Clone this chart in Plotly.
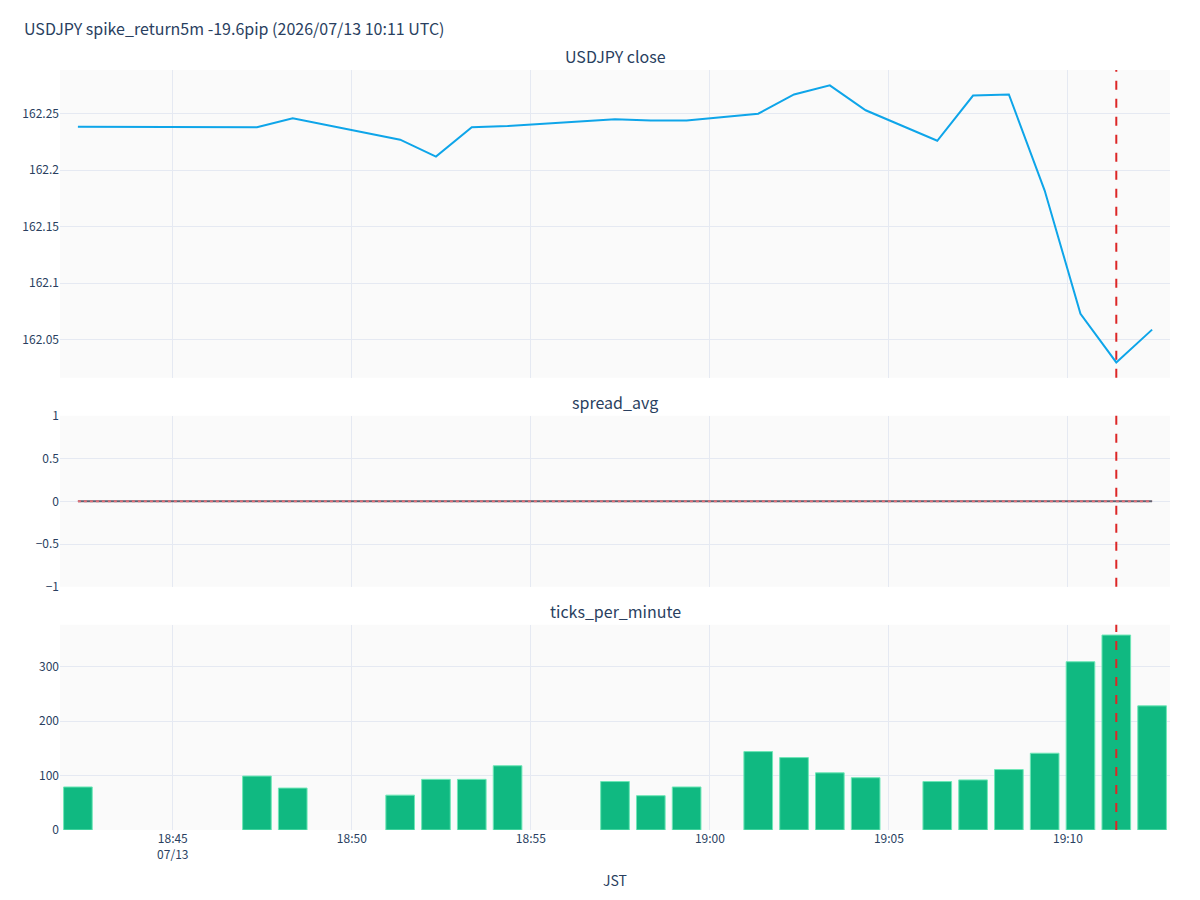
import plotly.graph_objects as go
from plotly.subplots import make_subplots

times = [
    "2026-07-13 18:42:21", "2026-07-13 18:47:21", "2026-07-13 18:48:21",
    "2026-07-13 18:51:21", "2026-07-13 18:52:21", "2026-07-13 18:53:21",
    "2026-07-13 18:54:21", "2026-07-13 18:57:21", "2026-07-13 18:58:21",
    "2026-07-13 18:59:21", "2026-07-13 19:01:21", "2026-07-13 19:02:21",
    "2026-07-13 19:03:21", "2026-07-13 19:04:21", "2026-07-13 19:06:21",
    "2026-07-13 19:07:21", "2026-07-13 19:08:21", "2026-07-13 19:09:21",
    "2026-07-13 19:10:21", "2026-07-13 19:11:21", "2026-07-13 19:12:21",
]
close = [
    162.2385, 162.238, 162.246, 162.227, 162.212, 162.238, 162.239,
    162.245, 162.244, 162.244, 162.250, 162.267, 162.275, 162.253,
    162.226, 162.266, 162.267, 162.182, 162.073, 162.030, 162.059,
]
spread_avg = [0] * 21
spread_ref = [0] * 21
ticks_per_minute = [
    79, 99, 77, 64, 93, 93, 118, 89, 63, 79, 144, 133, 105, 96,
    89, 92, 111, 141, 309, 358, 228,
]
event_time = "2026-07-13 19:11:21"

tick_vals = [
    "2026-07-13 18:45:00", "2026-07-13 18:50:00", "2026-07-13 18:55:00",
    "2026-07-13 19:00:00", "2026-07-13 19:05:00", "2026-07-13 19:10:00",
]
tick_text = ["18:45<br>07/13", "18:50", "18:55", "19:00", "19:05", "19:10"]

title_text = "USDJPY spike_return5m -19.6pip (2026/07/13 10:11 UTC)"
subplot_titles = ["USDJPY close", "spread_avg", "ticks_per_minute"]

FONT = "Noto Sans CJK JP"

fig = make_subplots(
    rows=3, cols=1, shared_xaxes=True,
    row_heights=[0.45, 0.25, 0.3], vertical_spacing=0.05,
    subplot_titles=subplot_titles,
)

fig.add_trace(go.Scatter(x=times, y=close, mode="lines",
                         line=dict(color="#0ea5e9", width=2),
                         name="close"), row=1, col=1)
fig.add_trace(go.Scatter(x=times, y=spread_avg, mode="lines",
                         line=dict(color="#5b6170", width=2),
                         name="spread_avg"), row=2, col=1)
fig.add_trace(go.Scatter(x=times, y=spread_ref, mode="lines",
                         line=dict(color="#e06c75", width=2, dash="3px,3px"),
                         name="spread_ref"), row=2, col=1)
fig.add_trace(go.Bar(x=times, y=ticks_per_minute,
                     marker=dict(color="#10b981", line=dict(color="#6ee7b7", width=1)),
                     name="ticks_per_minute"), row=3, col=1)

for r in (1, 2, 3):
    fig.add_vline(x=event_time, line=dict(color="#dc2626", width=2, dash="dash"),
                  row=r, col=1)

fig.update_layout(
    template="plotly_white",
    width=1200, height=900,
    margin=dict(l=60, r=30, t=70, b=70),
    plot_bgcolor="#fafafa",
    showlegend=False,
    font=dict(family=FONT, size=12, color="#2a3f5f"),
    title=dict(text=title_text, x=0.02, xanchor="left", y=0.967, yanchor="middle",
               font=dict(family=FONT, size=16)),
    bargap=0.2,
)
fig.update_annotations(font=dict(family=FONT, size=16))
fig.update_xaxes(tickvals=tick_vals, ticktext=tick_text, showgrid=True,
                 gridcolor="#e5e9f2", zeroline=False)
fig.update_yaxes(gridcolor="#e5e9f2", zeroline=False)
fig.update_xaxes(title_text="JST", row=3, col=1)

fig.write_html("out.html")
